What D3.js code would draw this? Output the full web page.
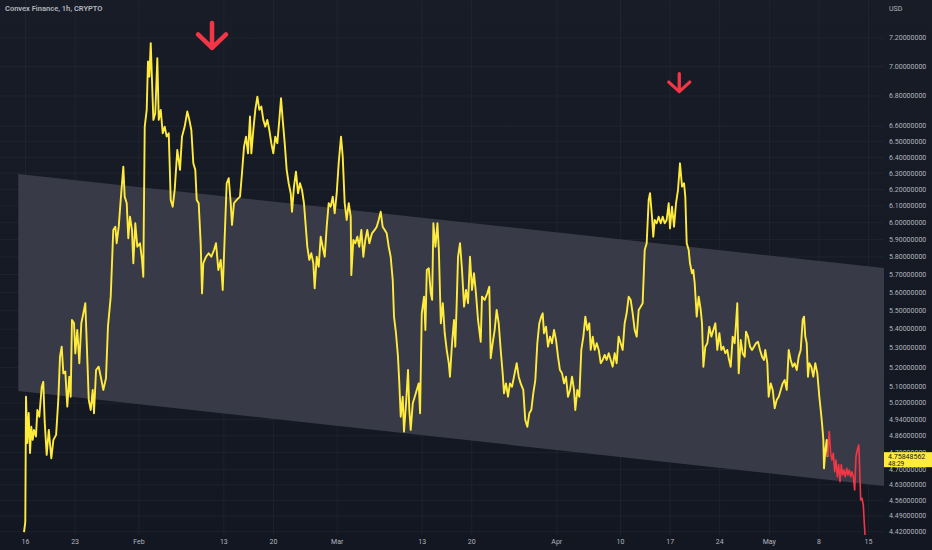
<!DOCTYPE html>
<html>
<head>
<meta charset="utf-8">
<script src="https://cdn.jsdelivr.net/npm/d3@7"></script>
<style>
  html, body { margin: 0; padding: 0; background: #131722; }
  svg { display: block; }
</style>
</head>
<body>
<svg id="chart" width="932" height="550"></svg>
<script>
// Convex Finance (CVX/USD), hourly closes, Jan 16 – May 2023.
// Each point: [days since 2023-01-16 00:00 UTC, close in USD]
const closes = [
  [-0.14,4.417],[0.04,4.462],[0.14,5.049],[0.32,4.823],[0.52,4.969],[0.71,4.776],[0.89,4.901],[1.09,4.838],[1.27,4.886],[1.55,4.854],
  [1.74,4.983],[2.02,4.950],[2.36,5.099],[2.58,5.124],[2.78,4.926],[3.06,4.767],[3.36,4.886],[3.71,4.751],[4.01,4.838],[4.39,4.862],
  [4.70,5.033],[4.94,5.253],[5.18,5.305],[5.41,5.167],[5.69,5.176],[5.97,5.000],[6.25,5.150],[6.45,5.049],[6.63,5.447],[6.92,5.429],
  [7.10,5.270],[7.38,5.393],[7.67,5.219],[7.95,5.429],[8.33,5.501],[8.51,5.538],[8.71,5.331],[9.00,5.033],[9.28,4.983],[9.56,5.083],
  [9.74,4.967],[10.03,5.184],[10.40,5.201],[10.69,5.150],[11.05,5.083],[11.43,5.142],[11.71,5.411],[12.10,5.574],[12.46,5.954],[12.75,5.973],
  [12.94,5.876],[13.23,5.973],[13.51,6.133],[13.88,6.338],[14.07,6.153],[14.36,6.113],[14.58,5.905],[14.82,6.032],[15.10,5.954],[15.29,5.761],
  [15.57,5.993],[15.85,5.856],[16.23,5.876],[16.52,5.780],[16.70,5.685],[16.90,6.594],[17.18,6.704],[17.36,7.032],[17.55,6.928],[17.75,7.161],
  [17.94,6.883],[18.12,6.638],[18.39,6.682],[18.68,7.055],[18.88,6.638],[19.16,6.704],[19.44,6.551],[19.72,6.594],[20.00,6.529],[20.29,6.551],
  [20.57,6.133],[20.85,6.092],[21.13,6.194],[21.50,6.444],[21.88,6.318],[22.16,6.529],[22.54,6.594],[22.91,6.693],[23.20,6.638],[23.48,6.572],
  [23.76,6.359],[24.04,6.318],[24.24,6.133],[24.52,6.113],[24.80,5.876],[24.99,5.592],[25.17,5.761],[25.55,5.798],[25.93,5.818],[26.30,5.798],
  [26.68,5.837],[26.96,5.876],[27.29,5.723],[27.63,5.780],[27.91,5.611],[28.19,5.914],[28.47,6.235],[28.76,6.266],[29.04,6.113],[29.22,5.983],
  [29.50,6.113],[29.88,6.133],[30.35,6.153],[30.63,6.297],[30.92,6.465],[31.20,6.529],[31.48,6.422],[31.76,6.660],[31.95,6.422],[32.23,6.572],
  [32.51,6.704],[32.80,6.792],[33.08,6.704],[33.36,6.726],[33.64,6.638],[33.92,6.594],[34.21,6.638],[34.49,6.572],[34.77,6.487],[35.05,6.422],
  [35.33,6.529],[35.62,6.487],[35.90,6.638],[36.14,6.781],[36.38,6.638],[36.66,6.487],[36.94,6.318],[37.22,6.235],[37.51,6.174],[37.69,6.062],
  [37.97,6.214],[38.25,6.307],[38.54,6.174],[38.82,6.235],[39.10,6.194],[39.38,6.113],[39.67,5.954],[39.85,5.856],[40.13,5.780],[40.41,5.818],
  [40.70,5.761],[40.89,5.620],[41.18,5.798],[41.46,5.741],[41.74,5.914],[42.02,5.856],[42.31,5.798],[42.59,5.973],[42.87,6.113],[43.15,6.092],
  [43.44,6.153],[43.72,6.053],[44.00,6.174],[44.28,6.359],[44.61,6.529],[44.85,6.401],[45.13,6.113],[45.41,6.013],[45.70,6.113],[45.98,6.032],
  [46.06,5.694],[46.35,5.895],[46.63,5.876],[46.91,5.914],[47.19,5.856],[47.48,5.954],[47.76,5.798],[48.04,5.895],[48.32,5.954],[48.61,5.876],
  [48.98,5.934],[49.36,5.954],[49.65,5.973],[49.93,6.013],[50.21,6.062],[50.49,5.973],[50.78,5.954],[51.06,5.934],[51.34,5.856],[51.62,5.798],
  [51.91,5.666],[52.09,5.465],[52.37,5.376],[52.65,5.253],[52.84,5.116],[53.04,4.950],[53.32,5.049],[53.50,4.878],[53.79,5.016],[54.07,5.184],
  [54.25,4.983],[54.45,4.886],[54.74,5.016],[55.02,5.049],[55.30,5.083],[55.58,5.116],[55.77,4.967],[56.01,5.483],[56.33,5.574],[56.52,5.393],
  [56.72,5.723],[57.00,5.732],[57.28,5.592],[57.47,5.556],[57.65,5.993],[57.94,5.856],[58.22,5.993],[58.42,5.837],[58.70,5.429],[58.98,5.538],
  [59.25,5.376],[59.53,5.288],[59.82,5.219],[59.99,5.150],[60.28,5.323],[60.56,5.447],[60.74,5.305],[60.94,5.538],[61.13,5.798],[61.41,5.876],
  [61.69,5.723],[61.98,5.519],[62.26,5.611],[62.54,5.538],[62.82,5.798],[63.10,5.611],[63.38,5.704],[63.66,5.592],[63.95,5.447],[64.33,5.331],
  [64.51,5.574],[64.89,5.556],[65.26,5.592],[65.54,5.629],[65.74,5.245],[66.02,5.323],[66.30,5.393],[66.58,5.501],[66.87,5.429],[67.15,5.288],
  [67.43,5.167],[67.62,5.066],[67.90,5.116],[68.18,5.049],[68.46,5.116],[68.75,5.099],[69.03,5.150],[69.41,5.219],[69.69,5.150],[69.97,5.116],
  [70.34,5.083],[70.62,4.934],[70.91,4.901],[71.19,4.967],[71.47,4.983],[71.75,5.066],[72.04,5.133],[72.32,5.323],[72.60,5.429],[72.88,5.465],
  [73.08,5.483],[73.26,5.376],[73.55,5.411],[73.83,5.305],[74.11,5.358],[74.39,5.323],[74.68,5.393],[74.96,5.340],[75.24,5.253],[75.52,5.184],
  [75.81,5.167],[76.09,5.116],[76.37,5.150],[76.65,5.049],[76.94,5.083],[77.22,5.150],[77.50,5.083],[77.68,4.983],[77.97,5.083],[78.25,5.049],
  [78.53,5.288],[78.82,5.358],[79.10,5.465],[79.38,5.393],[79.66,5.429],[79.86,5.288],[80.14,5.358],[80.42,5.288],[80.71,5.323],[80.99,5.288],
  [81.27,5.219],[81.55,5.236],[81.83,5.262],[82.11,5.236],[82.40,5.271],[82.68,5.236],[82.96,5.201],[83.24,5.271],[83.52,5.219],[83.80,5.358],
  [84.09,5.323],[84.37,5.288],[84.65,5.429],[84.93,5.483],[85.22,5.574],[85.50,5.556],[85.78,5.483],[86.07,5.393],[86.35,5.358],[86.63,5.501],
  [86.91,5.519],[87.19,5.538],[87.48,5.837],[87.76,5.876],[88.04,6.133],[88.23,6.174],[88.51,6.032],[88.69,5.914],[88.89,6.013],[89.17,5.993],
  [89.45,6.032],[89.74,5.993],[90.02,6.032],[90.30,5.993],[90.58,6.013],[90.87,6.113],[91.05,5.963],[91.33,6.092],[91.62,5.973],[91.90,6.113],
  [92.18,6.194],[92.46,6.359],[92.75,6.214],[93.03,6.235],[93.21,6.153],[93.41,5.876],[93.69,5.837],[93.87,5.761],[94.16,5.704],[94.34,5.723],
  [94.54,5.648],[94.82,5.465],[95.10,5.574],[95.39,5.501],[95.57,5.429],[95.76,5.201],[96.04,5.305],[96.32,5.323],[96.60,5.411],[96.89,5.358],
  [97.17,5.393],[97.45,5.429],[97.73,5.288],[98.02,5.376],[98.30,5.288],[98.58,5.305],[98.86,5.271],[99.14,5.288],[99.34,5.245],[99.62,5.201],
  [99.90,5.358],[100.18,5.323],[100.37,5.429],[100.55,5.538],[100.75,5.167],[101.03,5.340],[101.31,5.271],[101.60,5.253],[101.78,5.384],[102.06,5.358],
  [102.35,5.305],[102.63,5.288],[102.91,5.305],[103.19,5.323],[103.47,5.331],[103.76,5.288],[104.04,5.253],[104.32,5.236],[104.50,5.288],[104.79,5.219],
  [104.98,5.049],[105.27,5.116],[105.55,5.083],[105.83,4.992],[106.11,5.033],[106.40,5.049],[106.68,5.083],[106.96,5.116],[107.24,5.133],[107.53,5.083],
  [107.81,5.288],[108.09,5.236],[108.37,5.201],[108.65,5.219],[108.94,5.184],[109.22,5.253],[109.50,5.288],[109.78,5.447],[109.97,5.465],[110.15,5.358],
  [110.35,5.323],[110.53,5.150],[110.72,5.219],[111.00,5.201],[111.28,5.150],[111.56,5.219],[111.85,5.167],[112.13,5.049],[112.33,4.983],[112.51,4.918],
  [112.70,4.838],[112.79,4.704],[112.98,4.790],[113.18,4.838],[113.29,4.75848562]
];

// Hand-drawn projection continuing from the last close
const projection = [
  [113.29,4.75848562],[113.53,4.878],[113.73,4.775],[113.92,4.743],[114.10,4.775],[114.30,4.688],[114.48,4.743],[114.67,4.665],
  [114.86,4.720],[115.05,4.642],[115.23,4.720],[115.43,4.673],[115.61,4.696],[115.80,4.665],[116.00,4.704],[116.18,4.673],
  [116.36,4.696],[116.56,4.665],[116.74,4.688],[116.93,4.665],[117.12,4.604],[117.30,4.758],[117.49,4.790],[117.69,4.814],
  [117.77,4.758],[117.97,4.559],[118.15,4.567],[118.34,4.536],[118.48,4.455],[118.58,4.404]
];

// Descending parallel channel: [day, price] at its two ends
const channelTop = [[-0.95, 6.293], [121.26, 5.734]];
const channelBottom = [[-0.95, 5.078], [121.26, 4.623]];

// Sell markers: [day, price at arrow tip]
const arrowMarks = [[26.4, 7.127], [92.36, 6.826]];

const lastPrice = 4.75848562;
const countdown = "48:29";

const priceTicks = [7.2, 7.0, 6.8, 6.6, 6.5, 6.4, 6.3, 6.2, 6.1, 6.0, 5.9, 5.8, 5.7, 5.6, 5.5,
                    5.4, 5.3, 5.2, 5.1, 5.02, 4.94, 4.86, 4.78, 4.70, 4.63, 4.56, 4.49, 4.42];
const timeTicks = [
  ["2023-01-16", "16"], ["2023-01-23", "23"], ["2023-02-01", "Feb"], ["2023-02-13", "13"],
  ["2023-02-20", "20"], ["2023-03-01", "Mar"], ["2023-03-13", "13"], ["2023-03-20", "20"],
  ["2023-04-01", "Apr"], ["2023-04-10", "10"], ["2023-04-17", "17"], ["2023-04-24", "24"],
  ["2023-05-01", "May"], ["2023-05-08", "8"], ["2023-05-15", "15"]
];

const title = "Convex Finance, 1h, CRYPTO";
const currency = "USD";

// ---- layout ----
const W = 932, H = 550;
const plotRight = 884, plotBottom = 535;
const FONT = "Roboto, 'Open Sans', 'DejaVu Sans', sans-serif";
const TEXT = "#b2b5be";

const base = Date.UTC(2023, 0, 16);
const toDate = d => new Date(base + d * 864e5);

const x = d3.scaleUtc().domain([toDate(-3.53), toDate(121.26)]).range([0, plotRight]);
const y = d3.scaleLog().domain([4.404, 7.473]).range([plotBottom, 0]);

const svg = d3.select("#chart");
const defs = svg.append("defs");
const grad = defs.append("linearGradient").attr("id", "bg").attr("x1", 0).attr("y1", 0).attr("x2", 0).attr("y2", 1);
grad.append("stop").attr("offset", "0%").attr("stop-color", "#181c27");
grad.append("stop").attr("offset", "100%").attr("stop-color", "#131722");
defs.append("clipPath").attr("id", "plot")
  .append("rect").attr("x", 0).attr("y", 0).attr("width", plotRight).attr("height", plotBottom + 1);

svg.append("rect").attr("width", W).attr("height", H).attr("fill", "url(#bg)");

// grid
const tickDates = timeTicks.map(t => new Date(t[0] + "T00:00:00Z"));
const gridX = svg.append("g").attr("class", "grid-x")
  .call(d3.axisBottom(x).tickValues(tickDates).tickSize(plotBottom).tickFormat(""));
const gridY = svg.append("g").attr("class", "grid-y")
  .call(d3.axisRight(y).tickValues(priceTicks).tickSize(plotRight).tickFormat(""));
svg.selectAll(".grid-x .domain, .grid-y .domain").remove();
svg.selectAll(".grid-x line, .grid-y line").attr("stroke", "#2a2e39").attr("stroke-opacity", 0.45).attr("stroke-width", 1);

const plot = svg.append("g").attr("clip-path", "url(#plot)");

// channel
const px = d => x(toDate(d[0]));
const py = d => y(d[1]);
const channelPts = [channelTop[0], channelTop[1], channelBottom[1], channelBottom[0]];
plot.append("polygon")
  .attr("points", channelPts.map(d => [px(d), py(d)].join(",")).join(" "))
  .attr("fill", "#383b47");

const line = d3.line().x(px).y(py);

plot.append("path").datum(closes)
  .attr("d", line)
  .attr("fill", "none")
  .attr("stroke", "#ffeb3b")
  .attr("stroke-width", 1.9)
  .attr("stroke-linejoin", "round");

plot.append("path").datum(projection)
  .attr("d", line)
  .attr("fill", "none")
  .attr("stroke", "#f23645")
  .attr("stroke-width", 1.6)
  .attr("stroke-linejoin", "round");

// arrows (first is drawn larger than the second)
const arrowSizes = [{shaft: 25, half: 14, arm: 13.5, w: 4.5}, {shaft: 18, half: 10.5, arm: 9.5, w: 3.3}];
arrowMarks.forEach((m, i) => {
  const tx = px(m), ty = py(m), s = arrowSizes[i];
  const p = d3.path();
  p.moveTo(tx, ty - s.shaft); p.lineTo(tx, ty);
  p.moveTo(tx - s.half, ty - s.arm); p.lineTo(tx, ty); p.lineTo(tx + s.half, ty - s.arm);
  svg.append("path").attr("d", p.toString())
    .attr("fill", "none").attr("stroke", "#f23645").attr("stroke-width", s.w)
    .attr("stroke-linecap", "round").attr("stroke-linejoin", "round");
});

// title
svg.append("text").attr("x", 5).attr("y", 10.5)
  .attr("font-family", FONT).attr("font-size", 7.5).attr("font-weight", 600)
  .attr("fill", TEXT).text(title);

// price axis
const yAxis = svg.append("g").attr("transform", `translate(${plotRight},0)`)
  .call(d3.axisRight(y).tickValues(priceTicks).tickFormat(d3.format(".8f")).tickSize(0).tickPadding(5));
yAxis.select(".domain").remove();
yAxis.selectAll("text").attr("font-family", FONT).attr("font-size", 7).attr("fill", TEXT);

svg.append("text").attr("x", plotRight + 5).attr("y", 10.5)
  .attr("font-family", FONT).attr("font-size", 7).attr("fill", TEXT).text(currency);

// time axis
const labelByTime = new Map(timeTicks.map(t => [+new Date(t[0] + "T00:00:00Z"), t[1]]));
const xAxis = svg.append("g").attr("transform", `translate(0,${plotBottom})`)
  .call(d3.axisBottom(x).tickValues(tickDates).tickFormat(d => labelByTime.get(+d)).tickSize(0).tickPadding(4));
xAxis.select(".domain").remove();
xAxis.selectAll("text").attr("font-family", FONT).attr("font-size", 7).attr("fill", TEXT);

// last price badge
const ly = y(lastPrice);
const badge = svg.append("g");
badge.append("rect").attr("x", plotRight).attr("y", ly - 4.5).attr("width", W - plotRight).attr("height", 15)
  .attr("fill", "#ffeb3b");
badge.append("text").attr("x", plotRight + 4).attr("y", ly + 2.3)
  .attr("font-family", FONT).attr("font-size", 7).attr("fill", "#131722").text(d3.format(".8f")(lastPrice));
badge.append("text").attr("x", plotRight + 4).attr("y", ly + 9)
  .attr("font-family", FONT).attr("font-size", 6.5).attr("fill", "#131722").text(countdown);
</script>
</body>
</html>
